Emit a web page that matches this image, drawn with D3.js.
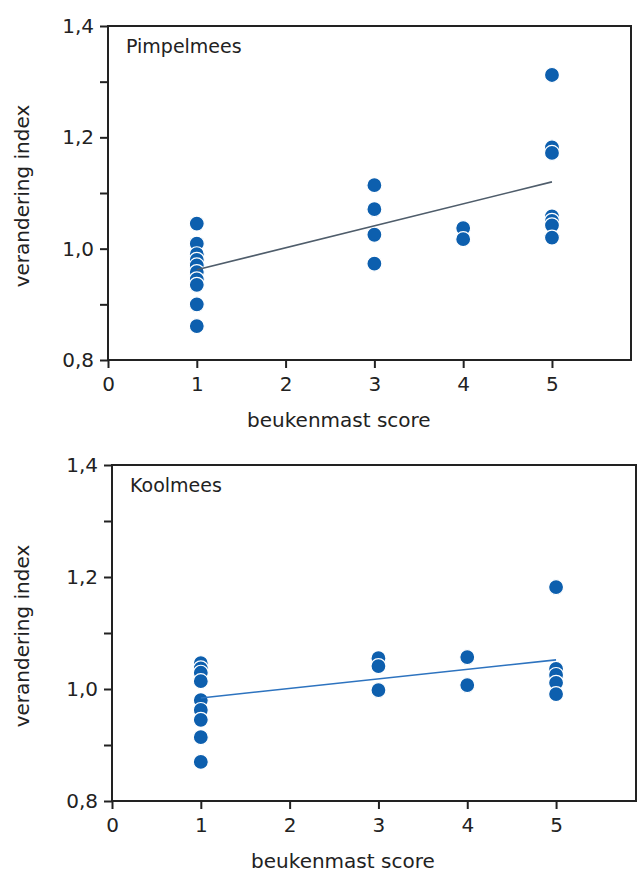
<!DOCTYPE html>
<html>
<head>
<meta charset="utf-8">
<script src="https://cdn.jsdelivr.net/npm/d3@7"></script>
<style>
  body { margin: 0; background: #fff; }
  svg text { font-family: "DejaVu Sans", sans-serif; fill: #222; }
</style>
</head>
<body>
<div id="chart"></div>
<script>
// x: beukenmast score, y: verandering index
var xTicks = [0, 1, 2, 3, 4, 5],
    yTicks = [0.8, 0.9, 1.0, 1.1, 1.2, 1.3, 1.4];

var pimpelX = [1, 1, 1, 1, 1, 1, 1, 1, 1, 1, 3, 3, 3, 3, 4, 4, 5, 5, 5, 5, 5, 5, 5],
    pimpelY = [1.045, 1.009, 0.99, 0.98, 0.97, 0.958, 0.945, 0.935, 0.9, 0.861,
               1.114, 1.071, 1.025, 0.973, 1.037, 1.017,
               1.312, 1.182, 1.172, 1.058, 1.05, 1.042, 1.02];
var pimpelTrend = [[1, 0.962], [5, 1.12]];

var koolX = [1, 1, 1, 1, 1, 1, 1, 1, 1, 3, 3, 3, 4, 4, 5, 5, 5, 5, 5],
    koolY = [1.046, 1.037, 1.029, 1.014, 0.98, 0.9625, 0.945, 0.914, 0.87,
             1.055, 1.041, 0.998, 1.057, 1.007,
             1.182, 1.036, 1.025, 1.011, 0.991];
var koolTrend = [[1, 0.984], [5, 1.052]];

var svg = d3.select("#chart").append("svg")
    .attr("width", 638)
    .attr("height", 872);

var fmt = function(d) {
    var k = Math.round(d * 10);
    return k % 2 == 0 ? d3.format(".1f")(d).replace(".", ",") : "";
};

function panel(cfg) {
    var g = svg.append("g")
        .attr("transform", "translate(" + cfg.left + "," + cfg.top + ")");

    var x = d3.scaleLinear().domain([0, cfg.xmax]).range([0, cfg.width]);
    var y = d3.scaleLinear().domain([0.8, 1.4]).range([cfg.height, 0]);

    // y axis
    var ya = g.append("g")
        .call(d3.axisLeft(y).tickValues(yTicks).tickFormat(fmt).tickSize(8).tickPadding(6));
    ya.select(".domain").remove();
    ya.selectAll("line").attr("stroke", "#222").attr("stroke-width", 2);
    ya.selectAll("text").attr("font-size", 20).attr("fill", "#222");

    // x axis
    var xa = g.append("g")
        .attr("transform", "translate(0," + cfg.height + ")")
        .call(d3.axisBottom(x).tickValues(xTicks).tickFormat(d3.format("d")).tickSize(8).tickPadding(9));
    xa.select(".domain").remove();
    xa.selectAll("line").attr("stroke", "#222").attr("stroke-width", 2);
    xa.selectAll("text").attr("font-size", 20).attr("fill", "#222");

    // frame
    g.append("rect")
        .attr("width", cfg.width)
        .attr("height", cfg.height)
        .attr("fill", "none")
        .attr("stroke", "#222")
        .attr("stroke-width", 2);

    // titles
    g.append("text")
        .attr("x", 18)
        .attr("y", 27)
        .attr("font-size", 19)
        .text(cfg.name);

    g.append("text")
        .attr("x", x(2.6))
        .attr("y", cfg.height + 67)
        .attr("text-anchor", "middle")
        .attr("font-size", 20)
        .text("beukenmast score");

    g.append("text")
        .attr("transform", "translate(" + (29 - cfg.left) + "," + (cfg.height / 2 + 3) + ") rotate(-90)")
        .attr("text-anchor", "middle")
        .attr("font-size", 20)
        .text("verandering index");

    // dots
    g.selectAll("circle.dot")
        .data(cfg.xs)
      .enter().append("circle")
        .attr("class", "dot")
        .attr("cx", function(d) { return x(d); })
        .attr("cy", function(d, i) { return y(cfg.ys[i]); })
        .attr("r", 7.5)
        .attr("fill", "#0d5fae")
        .attr("stroke", "#fff")
        .attr("stroke-width", 1.2);

    // trend line
    g.append("path")
        .datum(cfg.trend)
        .attr("fill", "none")
        .attr("stroke", cfg.lineColor)
        .attr("stroke-width", 1.6)
        .attr("d", d3.line()
            .x(function(d) { return x(d[0]); })
            .y(function(d) { return y(d[1]); }));
}

panel({ name: "Pimpelmees", left: 108, top: 26, width: 523, height: 334, xmax: 5.89,
        xs: pimpelX, ys: pimpelY, trend: pimpelTrend, lineColor: "#4f5d6b" });
panel({ name: "Koolmees", left: 112, top: 465, width: 524, height: 336, xmax: 5.9,
        xs: koolX, ys: koolY, trend: koolTrend, lineColor: "#2d73bf" });
</script>
</body>
</html>
